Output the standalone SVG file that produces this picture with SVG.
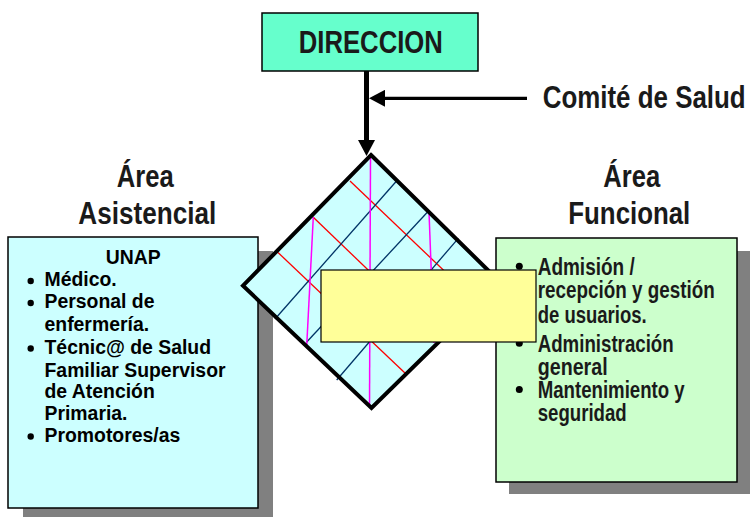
<svg xmlns="http://www.w3.org/2000/svg" width="750" height="517" viewBox="0 0 750 517">
<style>
.box{stroke:#000;stroke-width:1.5}
.shadow{fill:#808080}
.narrow{font-family:"Liberation Sans Narrow","Liberation Sans",Arial,sans-serif;font-weight:bold;fill:#1a1a1a}
.lt{font-family:"Liberation Sans",Arial,sans-serif;font-weight:bold;font-size:19.4px;fill:#000}
.rt{font-size:23.5px}
.ttl{font-size:32px}
.red{stroke:#FF0000;stroke-width:1.3;fill:none}
.blue{stroke:#003366;stroke-width:1.3;fill:none}
.mag{stroke:#FF00FF;stroke-width:1.5;fill:none}
.conn{stroke:#000;fill:none}
</style>
<defs>
<marker id="ah" viewBox="0 0 16 17" refX="0" refY="8.5" markerWidth="16" markerHeight="17" orient="auto" markerUnits="userSpaceOnUse">
<path d="M0,0 L16,8.5 L0,17 z" fill="#000"/>
</marker>
</defs>
<rect width="750" height="517" fill="#fff"/>

<g id="direccion">
<rect x="262" y="13" width="216" height="58" fill="#66FFCC" class="box"/>
<text x="370.8" y="53.3" text-anchor="middle" class="narrow" font-size="31" textLength="144" lengthAdjust="spacingAndGlyphs" fill="#000">DIRECCION</text>
</g>

<g id="comite">
<text x="542.7" y="108.3" class="narrow ttl" textLength="203" lengthAdjust="spacingAndGlyphs">Comité de Salud</text>
</g>

<g id="titulo-asistencial">
<text x="116.7" y="186.7" class="narrow ttl" textLength="57" lengthAdjust="spacingAndGlyphs">Área</text>
<text x="78.3" y="224" class="narrow ttl" textLength="138" lengthAdjust="spacingAndGlyphs">Asistencial</text>
</g>

<g id="titulo-funcional">
<text x="603.3" y="186.7" class="narrow ttl" textLength="57" lengthAdjust="spacingAndGlyphs">Área</text>
<text x="568.3" y="224" class="narrow ttl" textLength="122" lengthAdjust="spacingAndGlyphs">Funcional</text>
</g>

<g id="area-asistencial">
<rect x="23" y="251" width="250" height="271" class="shadow"/>
<rect x="8" y="237" width="250" height="271" fill="#CCFFFF" class="box"/>
<text x="133.3" y="263.5" text-anchor="middle" class="lt">UNAP</text>
<circle cx="30.7" cy="281" r="3.2"/>
<text x="44.5" y="286" class="lt">Médico.</text>
<circle cx="30.7" cy="303" r="3.2"/>
<text x="44.5" y="308.3" class="lt">Personal de</text>
<text x="44.5" y="330.7" class="lt">enfermería.</text>
<circle cx="30.7" cy="348.5" r="3.2"/>
<text x="44.5" y="354" class="lt">Técnic@ de Salud</text>
<text x="44.5" y="376.5" class="lt">Familiar Supervisor</text>
<text x="44.5" y="398" class="lt">de Atención</text>
<text x="44.5" y="420.2" class="lt">Primaria.</text>
<circle cx="30.7" cy="436.5" r="3.2"/>
<text x="44.5" y="442.3" class="lt">Promotores/as</text>
</g>

<g id="area-funcional">
<rect x="509" y="251" width="241" height="243" class="shadow"/>
<rect x="496" y="238" width="241" height="244" fill="#CCFFCC" class="box"/>
<circle cx="519.3" cy="266.3" r="3.5"/>
<text x="537.7" y="275" class="narrow rt" textLength="97" lengthAdjust="spacingAndGlyphs">Admisión /</text>
<text x="537.7" y="298.3" class="narrow rt" textLength="177" lengthAdjust="spacingAndGlyphs">recepción y gestión</text>
<text x="537.7" y="322.5" class="narrow rt" textLength="109" lengthAdjust="spacingAndGlyphs">de usuarios.</text>
<circle cx="519.3" cy="343.3" r="3.5"/>
<text x="537.7" y="351.7" class="narrow rt" textLength="136" lengthAdjust="spacingAndGlyphs">Administración</text>
<text x="537.7" y="375" class="narrow rt" textLength="70" lengthAdjust="spacingAndGlyphs">general</text>
<circle cx="519.3" cy="389.5" r="3.5"/>
<text x="537.7" y="397.7" class="narrow rt" textLength="147" lengthAdjust="spacingAndGlyphs">Mantenimiento y</text>
<text x="537.7" y="420.7" class="narrow rt" textLength="89" lengthAdjust="spacingAndGlyphs">seguridad</text>
</g>

<g id="rombo">
<polygon points="371,155 500,282 371.5,408 243,285.7" fill="#CCFFFF"/>
<line x1="350" y1="181" x2="479" y2="304" class="red"/>
<line x1="313" y1="217" x2="441" y2="340" class="red"/>
<line x1="278" y1="252.5" x2="405.5" y2="373.5" class="red"/>
<line x1="275" y1="319" x2="397" y2="180.5" class="blue"/>
<line x1="306.7" y1="342" x2="428.5" y2="211" class="blue"/>
<line x1="336.7" y1="380" x2="458.3" y2="238.3" class="blue"/>
<line x1="370.5" y1="156" x2="369.5" y2="407" class="mag"/>
<line x1="313.3" y1="217" x2="306.7" y2="346" class="mag"/>
<line x1="429" y1="212" x2="434" y2="343" class="mag"/>
<polygon points="371,155 500,282 371.5,408 243,285.7" fill="none" stroke="#000" stroke-width="4" stroke-linejoin="miter"/>
</g>

<g id="recuadro">
<rect x="321" y="270" width="215" height="72" fill="#FFFF99" stroke="#000" stroke-width="1.2"/>
</g>

<g id="connectors">
<line x1="366.5" y1="71" x2="366.5" y2="140" class="conn" stroke-width="5" marker-end="url(#ah)"/>
<line x1="527" y1="98.3" x2="385" y2="98.3" class="conn" stroke-width="3.3" marker-end="url(#ah)"/>
</g>
</svg>
